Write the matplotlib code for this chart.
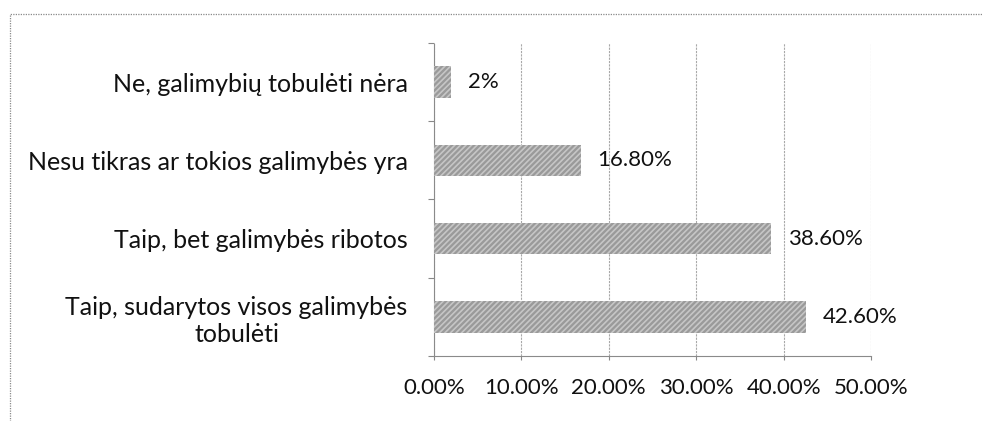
import matplotlib
matplotlib.use("Agg")
import matplotlib.pyplot as plt
from matplotlib.patches import Rectangle
from matplotlib.ticker import FuncFormatter, FixedLocator

categories = [
    "Taip, sudarytos visos galimybės\ntobulėti",
    "Taip, bet galimybės ribotos",
    "Nesu tikras ar tokios galimybės yra",
    "Ne, galimybių tobulėti nėra",
]
values = [42.6, 38.6, 16.8, 2.0]
value_labels = ["42.60%", "38.60%", "16.80%", "2%"]
x_ticks = [0, 10, 20, 30, 40, 50]

plt.rcParams["font.family"] = ["Lato", "DejaVu Sans"]
plt.rcParams["hatch.linewidth"] = 1.2

fig = plt.figure(figsize=(9.83, 4.21), dpi=100)
fig.patch.set_facecolor("white")

# dotted chart-area frame; right and bottom edges run off the canvas
fig.patches.append(Rectangle((0.010, -0.05), 1.05, 1.017, transform=fig.transFigure,
                             fill=False, edgecolor="#8a8a8a", linewidth=0.9,
                             linestyle=(0, (1, 1))))

ax = fig.add_axes([0.4415, 0.1544, 0.4446, 0.7435])

y = list(range(len(categories)))
ax.barh(y, values, height=0.4, color="#9a9a9a", edgecolor="#c6c6c6",
        hatch="//////", linewidth=0, zorder=3)

for yi, v, lab in zip(y, values, value_labels):
    ax.annotate(lab, (v, yi), xytext=(12, 0), textcoords="offset points",
                va="center", ha="left", fontsize=16, color="#111111", zorder=4)

ax.set_xlim(0, 50)
ax.set_ylim(-0.5, len(categories) - 0.5)
ax.set_xticks(x_ticks)
ax.xaxis.set_major_formatter(FuncFormatter(lambda v, p: f"{v:.2f}%"))
ax.set_yticks(y)
ax.set_yticklabels(categories, ha="right", multialignment="center")
ax.yaxis.set_minor_locator(FixedLocator([i - 0.5 for i in range(len(categories) + 1)]))

ax.tick_params(axis="y", which="major", length=0, pad=19, labelsize=18,
               labelcolor="#111111")
ax.tick_params(axis="y", which="minor", length=4, color="#888888", width=0.8)
ax.tick_params(axis="x", which="major", length=3, color="#888888", pad=13,
               labelsize=16, labelcolor="#111111")

ax.grid(axis="x", color="#a8a8a8", linewidth=0.8, linestyle=(0, (2, 1)), zorder=0)
for side in ("top", "right"):
    ax.spines[side].set_visible(False)
for side in ("left", "bottom"):
    ax.spines[side].set_color("#8a8a8a")
    ax.spines[side].set_linewidth(0.8)
    ax.spines[side].set_linestyle((0, (2, 1)))

fig.savefig("out.png", dpi=100)
